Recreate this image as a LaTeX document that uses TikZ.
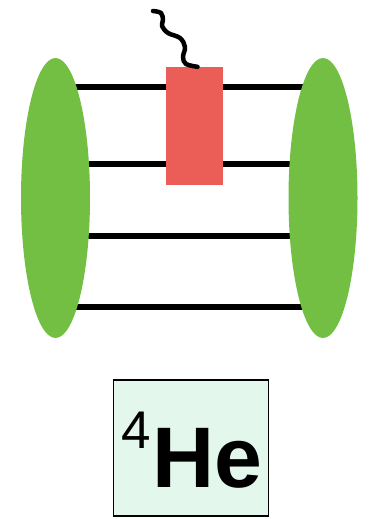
\documentclass[tikz,border=0pt]{standalone}
\usepackage{fontspec}
\setmainfont{Liberation Sans}
\usetikzlibrary{shapes.geometric}
\definecolor{blobgreen}{HTML}{72BF44}
\definecolor{vtxred}{HTML}{EB5E58}
\definecolor{labelmint}{HTML}{E3F7EC}
\begin{document}
\begin{tikzpicture}[x=1pt,y=-1pt,
  blob/.style={ellipse,fill=blobgreen,inner sep=0pt,minimum width=69pt,minimum height=280pt},
  quark/.style={line width=5.5pt},
  vtx/.style={rectangle,fill=vtxred,inner sep=0pt,minimum width=57pt,minimum height=118pt},
  photon/.style={line width=4.5pt,line cap=round,line join=round},
  tag/.style={draw,line width=1.8pt,fill=labelmint,inner sep=0pt,minimum width=155pt,minimum height=136pt}]
\useasboundingbox (0,0) rectangle (378,519);
% quark lines first, the blobs cover their ends
\foreach \y/\n in {87/1,164/2,236/3,307/4} {
  \coordinate (in\n) at (55.5,\y);
  \coordinate (out\n) at (323,\y);
  \draw[quark] (in\n) -- (out\n);
}
\node[blob] (left) at (55.5,198) {};
\node[blob] (right) at (323,198) {};
\node[vtx] (vertex) at (194.5,126) {};
% virtual photon
\coordinate (gamma) at (153,11);
\draw[photon] plot[smooth,tension=0.6] coordinates {(gamma) (161,13) (163,20) (162,26) (168,33) (180,38) (185,47) (183,57) (186,64) ([xshift=3pt]vertex.north)};
% nucleus label
\node[tag] (box) at (191,448) {};
\node[anchor=base,inner sep=0pt] (nucleus) at (192,487)
  {\fontsize{53}{53}\selectfont\raisebox{39pt}{4}\hspace{1pt}\fontsize{86}{86}\selectfont\textbf{He}};
\end{tikzpicture}
\end{document}
